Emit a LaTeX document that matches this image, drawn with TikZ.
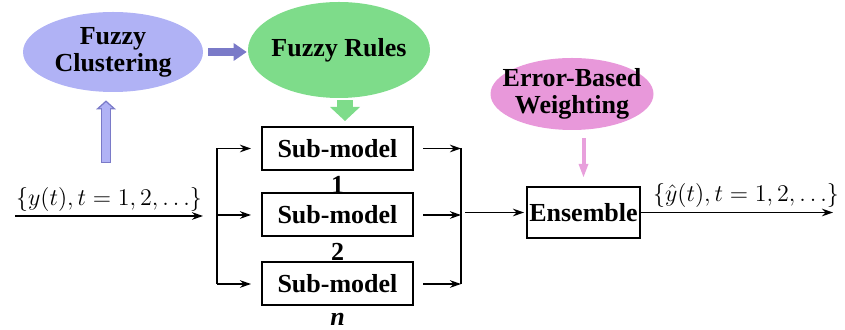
\documentclass[tikz,border=0pt]{standalone}
\usepackage{fontspec}
\setmainfont{Liberation Serif}
\usetikzlibrary{arrows.meta,shapes.geometric}

\definecolor{clusterfill}{RGB}{176,178,245}
\definecolor{clusteredge}{RGB}{122,122,200}
\definecolor{rulefill}{RGB}{126,220,138}
\definecolor{weightfill}{RGB}{232,152,218}
\definecolor{weightarrow}{RGB}{232,160,220}

\tikzset{
  blob/.style={ellipse, inner sep=0pt},
  blobtext/.style={font=\fontsize{13}{13.5}\selectfont\bfseries, align=center},
  box/.style={draw, line width=1pt, inner sep=1pt, font=\fontsize{13}{15}\selectfont\bfseries},
  idx/.style={font=\fontsize{13}{15}\selectfont\bfseries, inner sep=0pt},
  wire/.style={line width=0.8pt, -{Stealth[length=5.5pt,width=3.8pt]}},
  signal/.style={font=\fontsize{13}{15}\selectfont, inner sep=1pt},
}

\begin{document}
\begin{tikzpicture}[x=0.5pt,y=-0.5pt]
\useasboundingbox (0,0) rectangle (845,330);

% ellipses
\node[blob, fill=clusterfill, minimum width=90pt, minimum height=40pt,
  label={[blobtext]center:Fuzzy\\Clustering}] (fc) at (113,52) {};
\node[blob, fill=rulefill, minimum width=91pt, minimum height=48pt,
  label={[blobtext]center:Fuzzy Rules}] (fr) at (339,50) {};
\node[blob, fill=weightfill, minimum width=81.5pt, minimum height=36pt,
  label={[blobtext]center:Error-Based\\Weighting}] (eb) at (572,94) {};

% boxes
\node[box, minimum width=75.5pt, minimum height=21.5pt,
  label={[idx,label distance=2.5pt]below:1}] (sm1) at (337.5,148.5) {Sub-model};
\node[box, minimum width=75.5pt, minimum height=21.5pt,
  label={[idx,label distance=2.5pt]below:2}] (sm2) at (337.5,215) {Sub-model};
\node[box, minimum width=75.5pt, minimum height=21.5pt,
  label={[idx,label distance=3pt]below:\textit{n}}] (sm3) at (337.5,284) {Sub-model};
\node[box, minimum width=56.5pt, minimum height=25.5pt] (ens) at (583.5,212.5) {Ensemble};

\coordinate (in0) at (15,216);
\coordinate (in1) at (203,216);
\coordinate (lt) at (217,148.5);
\coordinate (lb) at (217,284);
\coordinate (rt) at (461,148.5);
\coordinate (rb) at (461,284);
\coordinate (out) at (833,213);
\coordinate (cb) at (106,163);

% signal lines
\draw[wire] (in0) -- node[signal, above=1pt] {$\{y(t),t=1,2,\ldots\}$} (in1);
\draw[line width=0.8pt] (lt) -- (lb);
\foreach \i in {1,2,3}
  \draw[wire, shorten >=5pt] (lt |- sm\i) -- (sm\i.west);
\foreach \i in {1,2,3}
  \draw[wire, shorten <=4.5pt] (sm\i.east) -- (rt |- sm\i);
\draw[line width=0.8pt] (rt) -- (rb);
\draw[wire, shorten <=2pt, shorten >=1pt] (rt |- ens.west) -- (ens.west);
\draw[wire] (ens.east) -- node[signal, above=1pt, xshift=4.5pt] {$\{\hat y(t),t=1,2,\ldots\}$} (out |- ens.east);

% block arrows
\draw[line width=4pt, clusteredge, -{Triangle[length=6.5pt,width=9pt,line width=0pt]},
  shorten <=2.5pt, shorten >=0.5pt] (fc.east) -- (fr.west |- fc.east);
\draw[line width=8pt, rulefill, -{Triangle[length=7pt,width=15pt,line width=0pt]},
  shorten <=1pt, shorten >=2.5pt] ([xshift=3pt]fr.south) -- ([xshift=3pt]fr.south |- sm1.north);
\draw[line width=5pt, clusteredge, -{Triangle[length=4.5pt,width=10pt,line width=0pt]},
  shorten >=4pt] (cb) -- (cb |- fc.south);
\draw[line width=3.6pt, clusterfill, -{Triangle[length=2.9pt,width=6.4pt,line width=0pt]},
  shorten <=0.7pt, shorten >=4.94pt] (cb) -- (cb |- fc.south);
\draw[line width=2pt, weightarrow, -{Triangle[length=6.5pt,width=5pt,line width=0pt]},
  shorten <=4pt, shorten >=4.5pt] (eb.south -| ens) -- (ens.north);
\end{tikzpicture}
\end{document}
